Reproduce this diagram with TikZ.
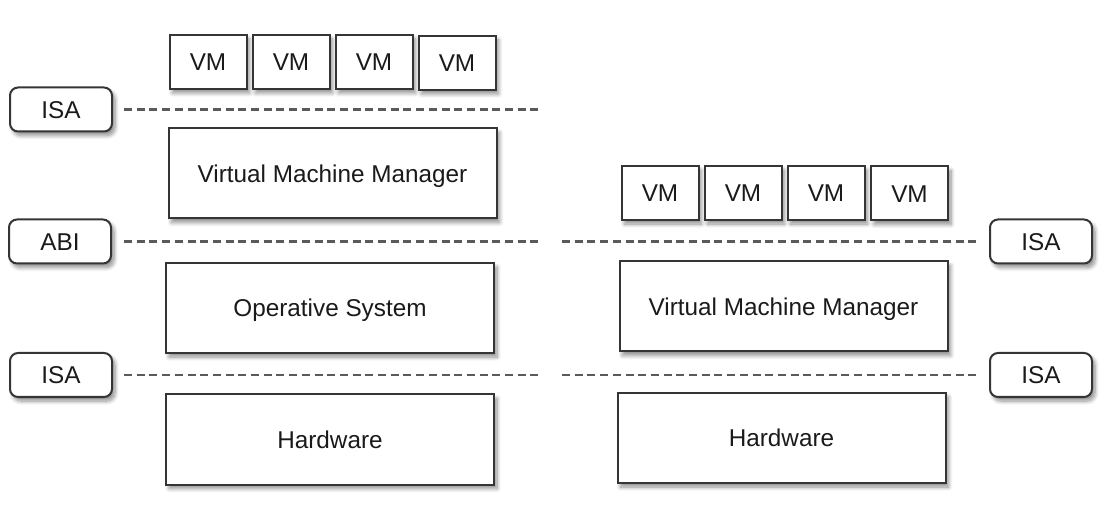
\documentclass[tikz,border=0pt]{standalone}
\usepackage{fontspec}
\setmainfont{Liberation Sans}
\usetikzlibrary{shadows.blur}
\definecolor{edge}{HTML}{353535}
\definecolor{dashc}{HTML}{5A5A5A}
\definecolor{txt}{HTML}{1A1A1A}
\tikzset{
  shade/.style={blur shadow={shadow xshift=3pt, shadow yshift=-4pt, shadow blur radius=4pt, shadow blur steps=8, shadow opacity=45}},
  boxnode/.style={draw=edge, line width=2pt, fill=white, shade, inner sep=0pt, text=txt, font=\fontsize{24.3}{29}\selectfont, text height=17.4pt, text depth=0pt},
  vmbox/.style={boxnode, minimum width=77pt, minimum height=54pt},
  bigbox/.style={boxnode, minimum width=328pt, minimum height=90pt},
  tag/.style={boxnode, rounded corners=8pt, minimum width=102pt, minimum height=44pt},
  level/.style={draw=dashc, line width=2.5pt, dash pattern=on 8pt off 4.7pt}
}
\begin{document}
\begin{tikzpicture}[x=1pt,y=-1pt]
\useasboundingbox (0,0) rectangle (1117,521);
% left stack
\node[vmbox] (lvm1) at (208,62) {VM};
\node[vmbox] (lvm2) at (291,62) {VM};
\node[vmbox] (lvm3) at (374,62) {VM};
\node[vmbox] (lvm4) at (457,63) {VM};
\node[tag] (lisa1) at (61,109.5) {ISA};
\node[bigbox] (lvmm) at (332.5,173.5) {Virtual Machine Manager};
\node[tag] (labi) at (60,241.5) {ABI};
\node[bigbox] (los) at (330,308) {Operative System};
\node[tag] (lisa2) at (61,375) {ISA};
\node[bigbox] (lhw) at (330,439.5) {Hardware};
% right stack
\node[vmbox] (rvm1) at (660,193) {VM};
\node[vmbox] (rvm2) at (743,193) {VM};
\node[vmbox] (rvm3) at (826,193) {VM};
\node[vmbox] (rvm4) at (909.5,193.5) {VM};
\node[bigbox] (rvmm) at (783.5,306.5) {Virtual Machine Manager};
\node[bigbox] (rhw) at (781.5,438) {Hardware};
\node[tag] (risa1) at (1041,241.5) {ISA};
\node[tag] (risa2) at (1041,375) {ISA};
% free ends of level lines
\coordinate (e1) at (540,109.5);
\coordinate (e2) at (540,241.5);
\coordinate (e3) at (540,375);
\coordinate (s2) at (562,241.5);
\coordinate (s3) at (562,375);
% level lines
\draw[level] ([xshift=11pt]lisa1.east) -- (e1);
\draw[level] ([xshift=12pt]labi.east) -- (e2);
\draw[level] ([xshift=11pt]lisa2.east) -- (e3);
\draw[level] (s2) -- ([xshift=-12pt]risa1.west);
\draw[level] (s3) -- ([xshift=-12pt]risa2.west);
\end{tikzpicture}
\end{document}
